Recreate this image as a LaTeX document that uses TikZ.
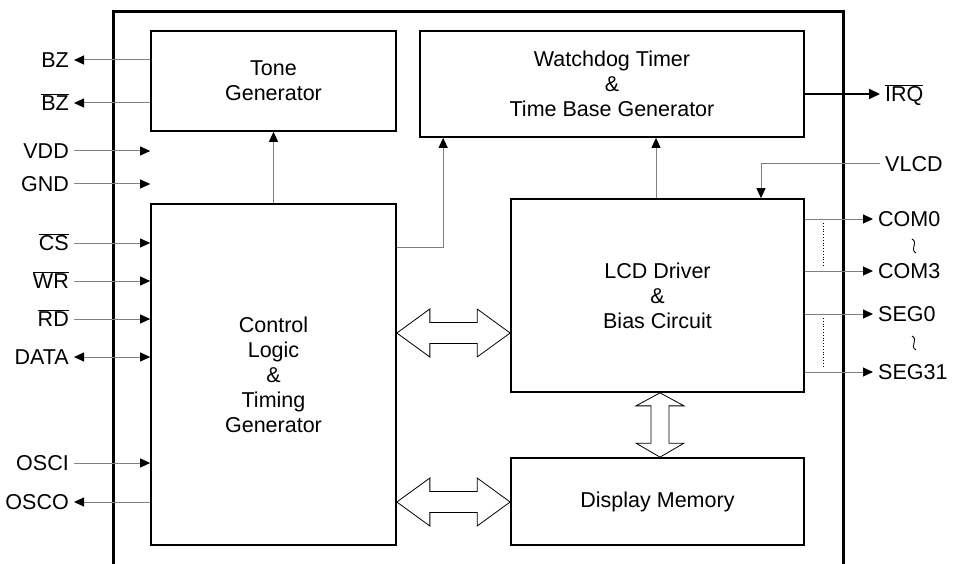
\documentclass[tikz,border=0pt]{standalone}
\usepackage{fontspec}
\setmainfont{Liberation Sans}
\usetikzlibrary{arrows.meta,calc}
\tikzset{
  box/.style={draw=black, line width=1.7pt, align=center, inner sep=0pt, font=\fontsize{21.5pt}{25pt}\selectfont},
  lbl/.style={inner xsep=5pt, inner ysep=0pt, text height=15pt, text depth=0pt, font=\fontsize{21.5pt}{25pt}\selectfont},
  sig/.style={draw=black!50, line width=1pt},
  tip/.style={-{Triangle[length=10pt,width=9pt,color=black]}},
  bothtip/.style={{Triangle[length=10pt,width=9pt,color=black]}-{Triangle[length=10pt,width=9pt,color=black]}},
  bigarr/.style={draw=black, line width=0.8pt, fill=white},
}
\newcommand{\hdbl}[2]{%
  \draw[bigarr] let \p1=(#1), \p2=(#2) in
    (\p1) -- (\x1+33pt,\y1+24pt) -- (\x1+33pt,\y1+10.5pt) -- (\x2-33pt,\y1+10.5pt)
    -- (\x2-33pt,\y1+24pt) -- (\p2) -- (\x2-33pt,\y1-24pt) -- (\x2-33pt,\y1-10.5pt)
    -- (\x1+33pt,\y1-10.5pt) -- (\x1+33pt,\y1-24pt) -- cycle;}
\newcommand{\vdbl}[2]{%
  \draw[bigarr] let \p1=(#1), \p2=(#2) in
    (\p1) -- (\x1+24pt,\y1-13pt) -- (\x1+9pt,\y1-13pt) -- (\x1+9pt,\y2+14pt)
    -- (\x1+24pt,\y2+14pt) -- (\p2) -- (\x1-24pt,\y2+14pt) -- (\x1-9pt,\y2+14pt)
    -- (\x1-9pt,\y1-13pt) -- (\x1-24pt,\y1-13pt) -- cycle;}
\newcommand{\squig}[1]{%
  \draw[line width=0.9pt] ($(#1)+(-2,-7)$) .. controls ($(#1)+(5,-3)$) and ($(#1)+(-5,3)$) .. ($(#1)+(2,7)$);}
\begin{document}
\begin{tikzpicture}[x=1pt,y=-1pt]
\useasboundingbox (0,0) rectangle (955,564);
% outer frame
\draw[line width=3pt] (113,570) -- (113,12) -- (843,12) -- (843,570);
% blocks
\node[box, minimum width=245, minimum height=100] (tone) at (273.5,81) {Tone\\Generator};
\node[box, minimum width=384, minimum height=106] (wdt) at (612,84) {Watchdog Timer\\\&\\Time Base Generator};
\node[box, minimum width=245, minimum height=341] (ctrl) at (273.5,374.5) {Control\\Logic\\\&\\Timing\\Generator};
\node[box, minimum width=293, minimum height=193] (lcd) at (657.5,295.5) {LCD Driver\\\&\\Bias Circuit};
\node[box, minimum width=293, minimum height=87] (mem) at (657.5,501.5) {Display Memory};
% left labels
\node[lbl, anchor=east] (bz) at (74,60) {BZ};
\node[lbl, anchor=east] (bzn) at (74,103) {$\overline{\mbox{BZ}}$};
\node[lbl, anchor=east] (vdd) at (74,151) {VDD};
\node[lbl, anchor=east] (gnd) at (74,184) {GND};
\node[lbl, anchor=east] (cs) at (74,243) {$\overline{\mbox{CS}}$};
\node[lbl, anchor=east] (wr) at (74,281) {$\overline{\mbox{WR}}$};
\node[lbl, anchor=east] (rd) at (74,319) {$\overline{\mbox{RD}}$};
\node[lbl, anchor=east] (data) at (74,357) {DATA};
\node[lbl, anchor=east] (osci) at (74,463) {OSCI};
\node[lbl, anchor=east] (osco) at (74,502) {OSCO};
% right labels
\node[lbl, anchor=west] (irq) at (880,94) {$\overline{\mbox{IRQ}}$};
\node[lbl, anchor=west] (vlcd) at (880,164) {VLCD};
\node[lbl, anchor=west] (com0) at (873,219) {COM0};
\node[lbl, anchor=west] (com3) at (873,271) {COM3};
\node[lbl, anchor=west] (seg0) at (873,314) {SEG0};
\node[lbl, anchor=west] (seg31) at (873,372) {SEG31};
% left signals
\draw[sig,tip] (bz.east -| tone.west) -- (bz.east);
\draw[sig,tip] (bzn.east -| tone.west) -- (bzn.east);
\draw[sig,tip] (vdd.east) -- (vdd.east -| ctrl.west);
\draw[sig,tip] (gnd.east) -- (gnd.east -| ctrl.west);
\draw[sig,tip] (cs.east) -- (cs.east -| ctrl.west);
\draw[sig,tip] (wr.east) -- (wr.east -| ctrl.west);
\draw[sig,tip] (rd.east) -- (rd.east -| ctrl.west);
\draw[sig,bothtip] (data.east) -- (data.east -| ctrl.west);
\draw[sig,tip] (osci.east) -- (osci.east -| ctrl.west);
\draw[sig,tip] (osco.east -| ctrl.west) -- (osco.east);
% internal connectors
\draw[sig,tip] (ctrl.north) -- (tone.south);
\draw[sig,tip] (ctrl.east |- 0,247) -| ($(wdt.south west)+(24,0)$);
\draw[sig,tip] (lcd.north -| 656,0) -- (wdt.south -| 656,0);
\draw[line width=2pt,-{Triangle[length=11pt,width=10pt]}] (wdt.east |- irq.west) -- (irq.west);
\draw[sig,tip] (vlcd.west) -| (lcd.north -| 761,0);
% right outputs
\draw[sig,tip] (lcd.east |- com0.west) -- (com0.west);
\draw[sig,tip] (lcd.east |- com3.west) -- (com3.west);
\draw[sig,tip] (lcd.east |- seg0.west) -- (seg0.west);
\draw[sig,tip] (lcd.east |- seg31.west) -- (seg31.west);
\draw[dotted, line width=0.8pt] (823,223) -- (823,267);
\draw[dotted, line width=0.8pt] (823,318) -- (823,366);
\coordinate (sq1) at (914,246);
\coordinate (sq2) at (914,343);
\squig{sq1}
\squig{sq2}
% big bus arrows
\hdbl{ctrl.east |- 0,333}{lcd.west |- 0,333}
\hdbl{ctrl.east |- 0,502}{mem.west |- 0,502}
\vdbl{lcd.south -| 660,0}{mem.north -| 660,0}
\end{tikzpicture}
\end{document}
